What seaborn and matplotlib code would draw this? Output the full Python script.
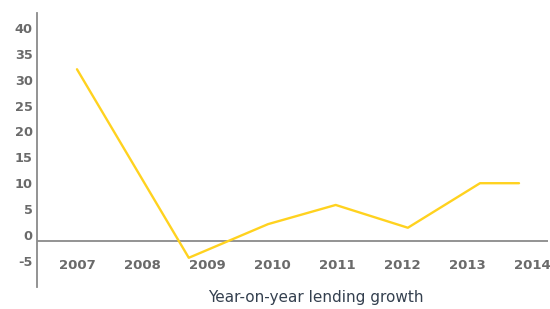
import numpy as np
import pandas as pd
import matplotlib
matplotlib.use("Agg")
import matplotlib.pyplot as plt
import seaborn as sns

sns.set_theme(style="white")
plt.rcParams['font.family'] = ['DejaVu Sans']

# values (x is position along the year axis)
year_pos = [2007.0, 2008.72, 2009.94, 2010.98, 2012.09, 2013.2, 2013.8]
growth = [32.0, -4.4, 2.1, 5.8, 1.4, 10.0, 10.0]
years = [2007, 2008, 2009, 2010, 2011, 2012, 2013, 2014]
y_ticks = [-5, 0, 5, 10, 15, 20, 25, 30, 35, 40]
zero_line = -1.2

df = pd.DataFrame({"year": year_pos, "growth": growth})

fig = plt.figure(figsize=(5.5, 3.09), dpi=100)
ax = fig.add_axes([37/550, 22/309, 511/550, 274/309])

sns.lineplot(data=df, x="year", y="growth", sort=False, color="#FFD21F",
             linewidth=1.7, ax=ax)

ax.set_xlim(2006.385, 2014.246)
ax.set_ylim(-10.04, 42.86)

for s in ["top", "right", "bottom"]:
    ax.spines[s].set_visible(False)
ax.spines["left"].set_color("#8a8a8a")
ax.spines["left"].set_linewidth(1.3)
ax.axhline(zero_line, color="#8a8a8a", linewidth=1.3, zorder=1)

ax.set_yticks(y_ticks)
ax.set_yticklabels([str(v) for v in y_ticks])
ax.set_xticks(years)
ax.set_xticklabels([str(y) for y in years])
ax.tick_params(axis="y", length=0, pad=3, labelsize=9.3, labelcolor="#6a6a6a")
ax.tick_params(axis="x", length=0, pad=-20, labelsize=9.5, labelcolor="#6a6a6a")
for lab in ax.get_xticklabels() + ax.get_yticklabels():
    lab.set_fontweight("bold")

ax.set_xlabel("")
ax.set_ylabel("")
ax.text(0.546, -0.04, "Year-on-year lending growth", transform=ax.transAxes,
        ha="center", va="center", fontsize=11, color="#34404f")

fig.savefig("out.png", dpi=100)
